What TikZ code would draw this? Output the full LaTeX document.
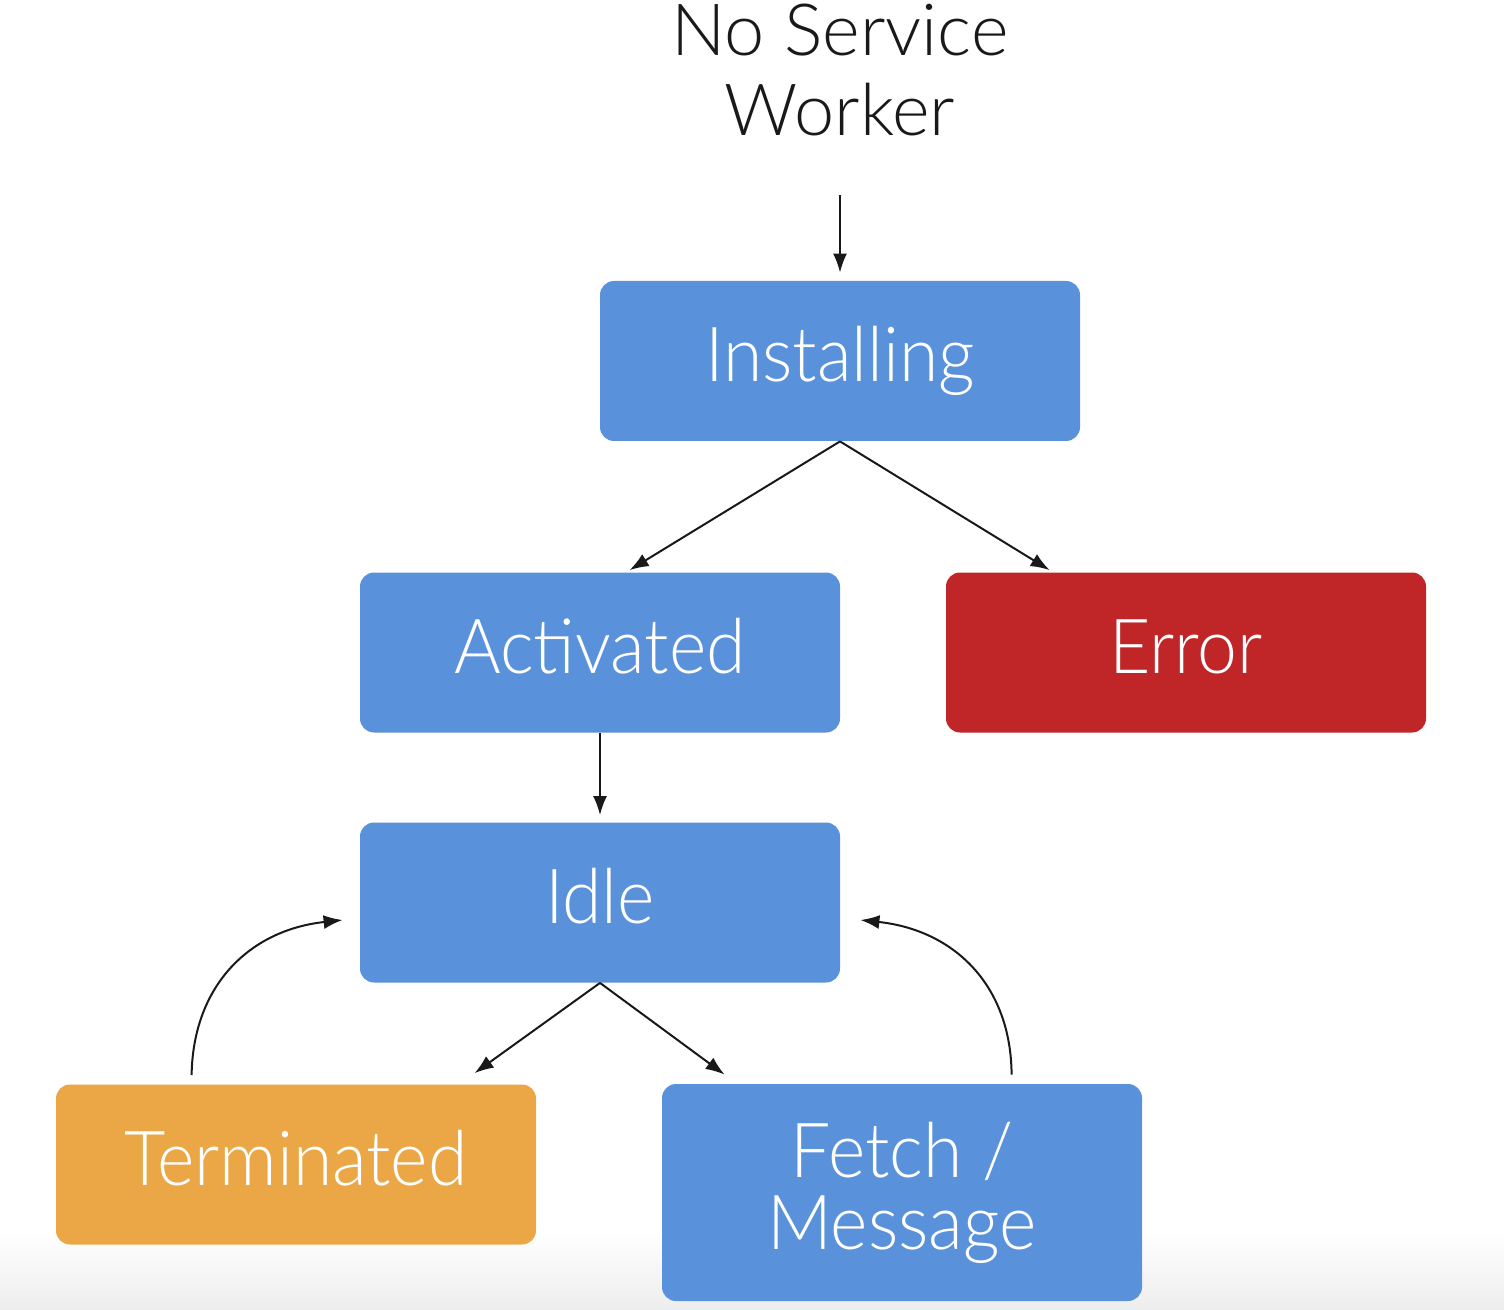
\documentclass[tikz,border=0pt]{standalone}
\usepackage{fontspec}
\setmainfont{Lato-Light.ttf}
\newfontfamily\boxfont{Lato-Light.ttf}[FakeStretch=0.94]
\usetikzlibrary{arrows.meta,calc}
\definecolor{sblue}{HTML}{5A91DB}
\definecolor{sred}{HTML}{C02628}
\definecolor{sorange}{HTML}{EBA746}
\begin{document}
\begin{tikzpicture}[x=0.5pt,y=-0.5pt,
  state/.style={rectangle,rounded corners=7pt,minimum width=240pt,minimum height=80pt,
    inner sep=0pt,text=white,font=\boxfont\fontsize{38}{36}\selectfont,align=center,
    text height=27pt,text depth=6pt},
  state2/.style={rectangle,rounded corners=7pt,minimum width=240pt,minimum height=108.5pt,
    inner sep=0pt,text=white,font=\boxfont\fontsize{38}{36}\selectfont,align=center},
  arr/.style={-{Latex[length=9.5pt,width=7pt]},line width=1pt,draw=black!90}]
\useasboundingbox (0,0) rectangle (1504,1310);
\shade[top color=white,bottom color=black!7] (0,1230) rectangle (1504,1310);

\node[font=\fontsize{36}{40}\selectfont,align=center,text=black!90] (nsw) at (840,70) {No Service\\Worker};
\coordinate (top) at (840,195);

\node[state,fill=sblue] (inst) at (840,361) {Installing};
\node[state,fill=sblue] (act) at (600,652.5) {Activated};
\node[state,fill=sred] (err) at (1186,652.5) {Error};
\node[state,fill=sblue] (idle) at (600,902.5) {Idle};
\node[state,fill=sorange] (term) at (296,1164.5) {Terminated};
\node[state2,fill=sblue] (fm) at (902,1192.5) {Fetch /\\Message};

\draw[arr,shorten >=4pt] (top) -- (inst.north);
\draw[arr] (inst.south) -- ($(act.north west)+(270,-2)$);
\draw[arr] (inst.south) -- ($(err.north west)+(104,-2)$);
\draw[arr,shorten >=3.5pt] (act.south) -- (idle.north);
\draw[arr] (idle.south) -- ($(term.north west)+(419,-11)$);
\draw[arr] (idle.south) -- ($(fm.north west)+(63,-9)$);
\draw[arr] ($(term.north west)+(136,-9)$) .. controls (193,985) and (250,930) .. ($(idle.west)+(-17,17.5)$);
\draw[arr] ($(fm.north west)+(350,-9)$) .. controls (1011,985) and (954,930) .. ($(idle.east)+(20,17.5)$);
\end{tikzpicture}
\end{document}
